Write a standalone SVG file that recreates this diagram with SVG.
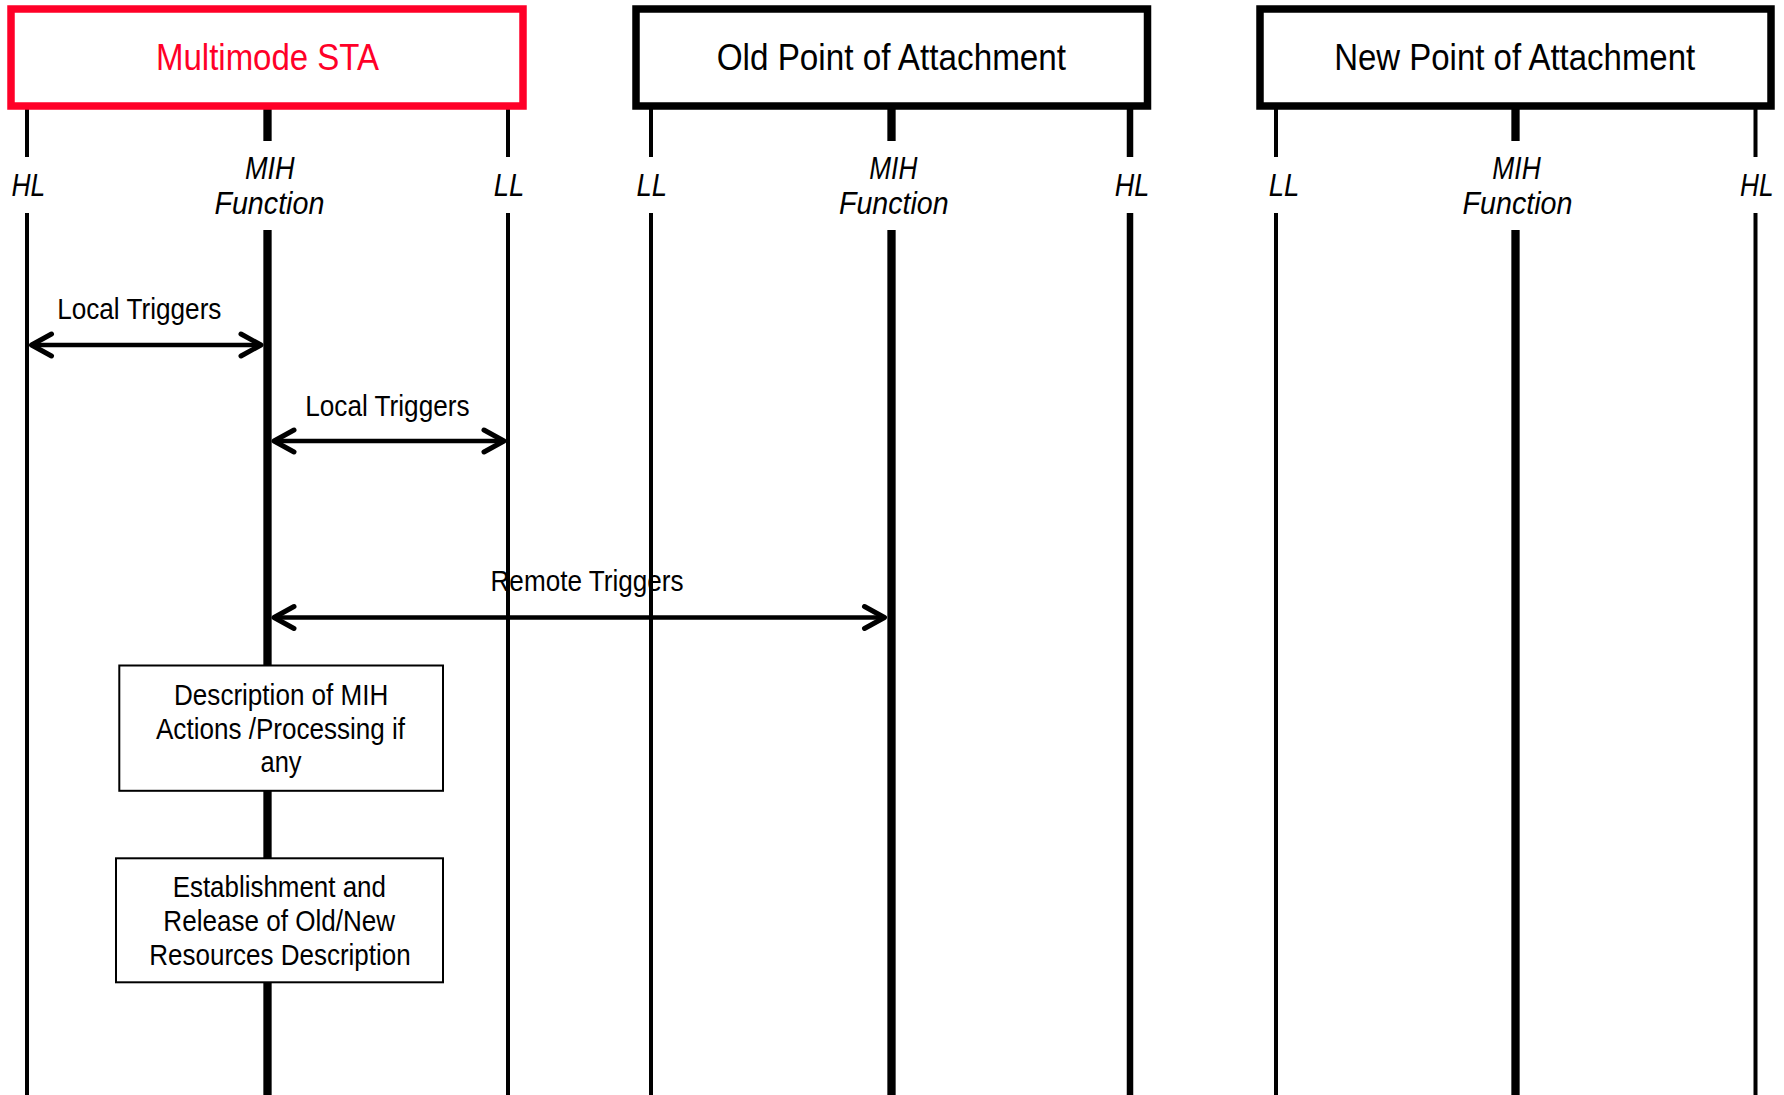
<svg xmlns="http://www.w3.org/2000/svg" width="1784" height="1095" viewBox="0 0 1784 1095">
  <style>
    .title { font-family: "Liberation Sans", Arial, sans-serif; font-size: 37px; text-anchor: middle; fill: #000; }
    .red { fill: #ff0028; }
    .lbl { font-family: "Liberation Sans", Arial, sans-serif; font-size: 32px; font-style: italic; text-anchor: middle; fill: #000; }
    .txt { font-family: "Liberation Sans", Arial, sans-serif; font-size: 30px; text-anchor: middle; fill: #000; }
    .hdr { fill: #fff; stroke: #000; stroke-width: 7.5; }
    .hdr-red { fill: #fff; stroke: #ff0028; stroke-width: 7.5; }
    .life { fill: none; stroke: #000; stroke-width: 4; }
    .life-mih { fill: none; stroke: #000; stroke-width: 8.3; }
    .life-thick { fill: none; stroke: #000; stroke-width: 6.5; }
    .box { fill: #fff; stroke: #000; stroke-width: 2; }
    .arrow { fill: none; stroke: #000; stroke-width: 4.5; marker-start: url(#chev); marker-end: url(#chev); }
  </style>
  <defs>
    <marker id="chev" viewBox="-24 -15 28 30" refX="0" refY="0" markerWidth="28" markerHeight="30" markerUnits="userSpaceOnUse" orient="auto-start-reverse">
      <path d="M-20,-11 L0,0 L-20,11" fill="none" stroke="#000" stroke-width="5" stroke-linecap="round" stroke-linejoin="round"/>
    </marker>
  </defs>
  <rect width="1784" height="1095" fill="#fff"/>

  <g id="multimode-sta">
    <path class="life" d="M27,105 V157 M27,213 V1095"/>
    <path class="life-mih" d="M267.5,105 V141 M267.5,230 V1095"/>
    <path class="life" d="M508,105 V157 M508,213 V1095"/>
    <rect class="hdr-red" x="11" y="9" width="512" height="97"/>
    <text class="title red" x="267.5" y="70" textLength="223" lengthAdjust="spacingAndGlyphs">Multimode STA</text>
    <text class="lbl" x="28.3" y="195.5" textLength="33.7" lengthAdjust="spacingAndGlyphs">HL</text>
    <text class="lbl" x="269.8" y="179" textLength="49.7" lengthAdjust="spacingAndGlyphs">MIH</text>
    <text class="lbl" x="269.4" y="214" textLength="110" lengthAdjust="spacingAndGlyphs">Function</text>
    <text class="lbl" x="509" y="195.5" textLength="30.6" lengthAdjust="spacingAndGlyphs">LL</text>
  </g>

  <g id="old-poa">
    <path class="life" d="M651,105 V157 M651,213 V1095"/>
    <path class="life-mih" d="M891.5,105 V141 M891.5,230 V1095"/>
    <path class="life-thick" d="M1130,105 V157 M1130,213 V1095"/>
    <rect class="hdr" x="636" y="9" width="511.5" height="97"/>
    <text class="title" x="891.4" y="70" textLength="349.4" lengthAdjust="spacingAndGlyphs">Old Point of Attachment</text>
    <text class="lbl" x="651.7" y="195.5" textLength="30.6" lengthAdjust="spacingAndGlyphs">LL</text>
    <text class="lbl" x="893.3" y="179" textLength="48" lengthAdjust="spacingAndGlyphs">MIH</text>
    <text class="lbl" x="893.8" y="214" textLength="109.5" lengthAdjust="spacingAndGlyphs">Function</text>
    <text class="lbl" x="1132" y="195.5" textLength="34.5" lengthAdjust="spacingAndGlyphs">HL</text>
  </g>

  <g id="new-poa">
    <path class="life" d="M1276,105 V157 M1276,213 V1095"/>
    <path class="life-mih" d="M1515.5,105 V141 M1515.5,230 V1095"/>
    <path class="life" d="M1755.5,105 V157 M1755.5,213 V1095"/>
    <rect class="hdr" x="1260" y="9" width="511" height="97"/>
    <text class="title" x="1514.7" y="70" textLength="361" lengthAdjust="spacingAndGlyphs">New Point of Attachment</text>
    <text class="lbl" x="1284" y="195.5" textLength="30.6" lengthAdjust="spacingAndGlyphs">LL</text>
    <text class="lbl" x="1516.5" y="179" textLength="48.4" lengthAdjust="spacingAndGlyphs">MIH</text>
    <text class="lbl" x="1517.5" y="214" textLength="110" lengthAdjust="spacingAndGlyphs">Function</text>
    <text class="lbl" x="1756.8" y="195.5" textLength="33.5" lengthAdjust="spacingAndGlyphs">HL</text>
  </g>

  <g id="connectors">
    <text class="txt" x="139.3" y="318.5" textLength="164.3" lengthAdjust="spacingAndGlyphs">Local Triggers</text>
    <line class="arrow" x1="31.5" y1="345" x2="261" y2="345"/>
    <text class="txt" x="387.4" y="415.5" textLength="164.3" lengthAdjust="spacingAndGlyphs">Local Triggers</text>
    <line class="arrow" x1="274" y1="441" x2="504" y2="441"/>
    <text class="txt" x="587" y="590.5" textLength="193" lengthAdjust="spacingAndGlyphs">Remote Triggers</text>
    <line class="arrow" x1="274" y1="617.5" x2="884.5" y2="617.5"/>
  </g>

  <g id="mih-actions">
    <rect class="box" x="119.3" y="665.5" width="323.7" height="125.3"/>
    <text class="txt" x="281.2" y="705" textLength="214.3" lengthAdjust="spacingAndGlyphs">Description of MIH</text>
    <text class="txt" x="280.5" y="739.3" textLength="249" lengthAdjust="spacingAndGlyphs">Actions /Processing if</text>
    <text class="txt" x="281" y="772" textLength="41" lengthAdjust="spacingAndGlyphs">any</text>
  </g>

  <g id="resources">
    <rect class="box" x="116" y="858.3" width="327" height="124"/>
    <text class="txt" x="279.3" y="897" textLength="213.3" lengthAdjust="spacingAndGlyphs">Establishment and</text>
    <text class="txt" x="279.2" y="930.5" textLength="231.7" lengthAdjust="spacingAndGlyphs">Release of Old/New</text>
    <text class="txt" x="280" y="965" textLength="261.4" lengthAdjust="spacingAndGlyphs">Resources Description</text>
  </g>
</svg>
